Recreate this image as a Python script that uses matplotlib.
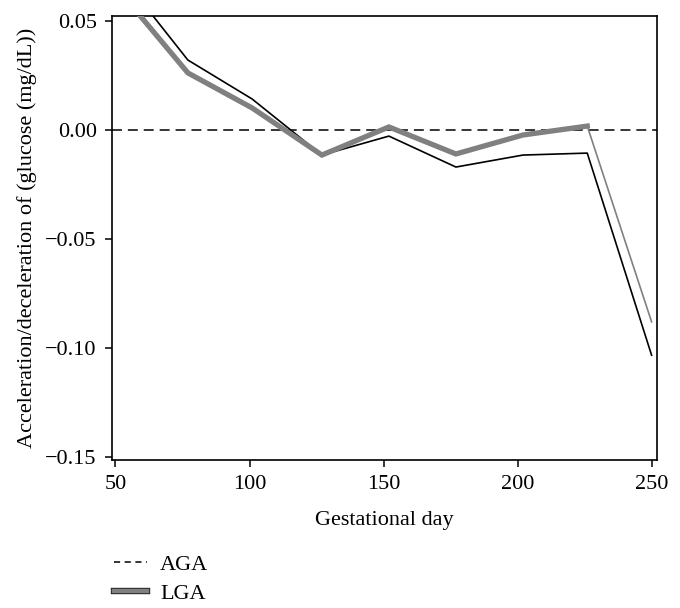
import matplotlib
matplotlib.use("Agg")
import matplotlib.pyplot as plt
import matplotlib.patheffects as pe
from matplotlib.lines import Line2D

plt.rcParams['font.family'] = ['Liberation Serif', 'DejaVu Serif']

days = [52, 77, 101, 127, 152, 177, 202, 226, 250]
lga = [0.063, 0.0262, 0.0101, -0.0115, 0.0014, -0.011, -0.0023, 0.0018, -0.088]
other = [0.071, 0.0321, 0.0142, -0.0115, -0.0028, -0.017, -0.0115, -0.0106, -0.1033]
aga_level = 0.0

xticks = [50, 100, 150, 200, 250]
yticks = [0.05, 0.00, -0.05, -0.10, -0.15]
yticklabels = ['0.05', '0.00', '\u22120.05', '\u22120.10', '\u22120.15']

fig = plt.figure(figsize=(6.8, 6.08), dpi=100)
ax = fig.add_axes([0.1647, 0.2434, 0.801, 0.7303])

ax.axhline(aga_level, color='black', lw=1.1, ls=(0, (6.5, 3.9)), zorder=1)
ax.plot(days, other, color='black', lw=1.2, zorder=2)
ax.plot(days[:-1], lga[:-1], color='#808080', lw=3.8, solid_joinstyle='miter', zorder=3)
ax.plot(days[-2:], lga[-2:], color='#808080', lw=1.2, zorder=3)

ax.set_xlim(48.7, 251.9)
ax.set_ylim(-0.1514, 0.0523)
ax.set_xticks(xticks)
ax.set_xticklabels([str(t) for t in xticks])
ax.set_yticks(yticks)
ax.set_yticklabels(yticklabels)
ax.tick_params(direction='out', length=5, width=1.1, labelsize=16, pad=6)
for s in ax.spines.values():
    s.set_linewidth(1.2)

ax.set_xlabel('Gestational day', fontsize=16, labelpad=12)
ax.set_ylabel('Acceleration/deceleration of (glucose (mg/dL))', fontsize=16, labelpad=6)

h_aga = Line2D([], [], color='black', lw=1.1, ls=(0, (4.0, 3.0)))
h_lga = Line2D([], [], color='#808080', lw=3.2,
               path_effects=[pe.Stroke(linewidth=4.6, foreground='#222222'), pe.Normal()])
fig.legend([h_aga, h_lga], ['AGA', 'LGA'], loc='upper left',
           bbox_to_anchor=(0.167, 0.088), frameon=False, fontsize=16,
           handlelength=1.5, handletextpad=0.6, labelspacing=0.38, borderaxespad=0,
           borderpad=0)

fig.savefig('out.png', dpi=100)
